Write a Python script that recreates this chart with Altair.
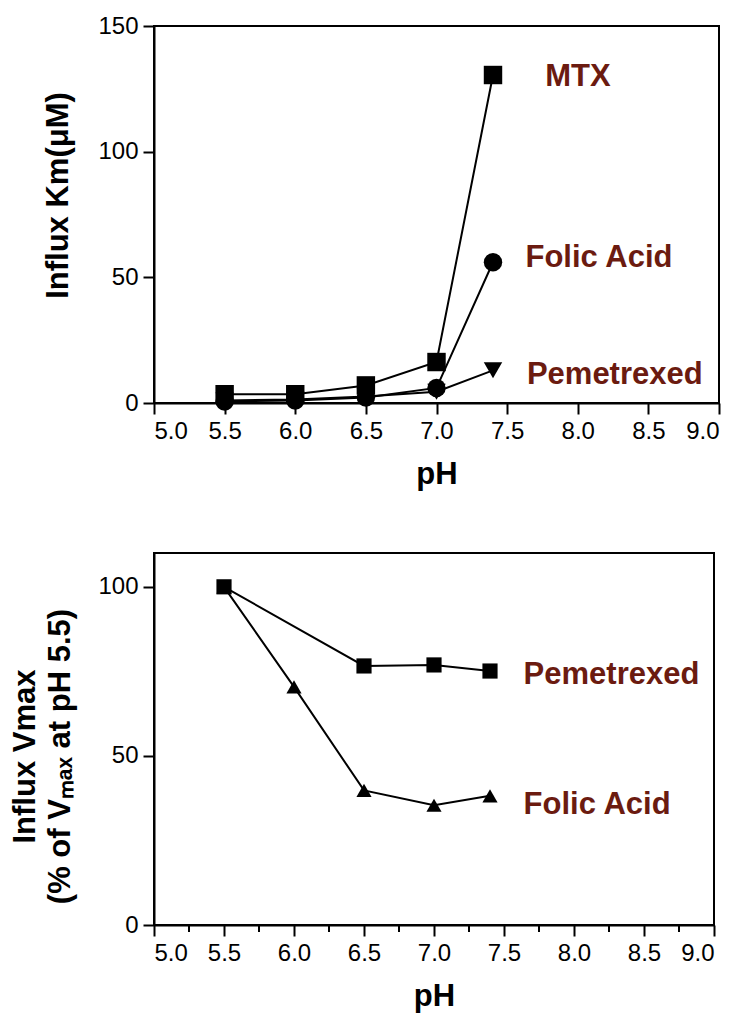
import altair as alt
import pandas as pd

# ---------------- data ----------------
ph_km = [5.5, 6.0, 6.5, 7.0, 7.4]
km_mtx = [3.5, 3.5, 7.0, 16.3, 130.5]
km_folic = [0.6, 1.0, 2.2, 6.0, 56.0]
km_pem = [1.0, 1.4, 2.6, 4.5, 13.0]

ph_vmax_pem = [5.5, 6.5, 7.0, 7.4]
vmax_pem = [100.0, 76.6, 76.9, 75.1]
ph_vmax_folic = [5.5, 6.0, 6.5, 7.0, 7.4]
vmax_folic = [100.0, 70.4, 39.8, 35.4, 38.2]

km_series = ["MTX", "Folic Acid", "Pemetrexed"]
km_shapes = ["square", "circle", "triangle-down"]
km_label_x = [7.77, 7.63, 7.64]
km_label_y = [129.8, 57.5, 11.3]

vmax_series = ["Pemetrexed", "Folic Acid"]
vmax_shapes = ["square", "triangle-up"]
vmax_label_x = [7.64, 7.64]
vmax_label_y = [74.0, 35.6]

x_major = [5.0, 5.5, 6.0, 6.5, 7.0, 7.5, 8.0, 8.5, 9.0]
x_minor = [5.25, 5.75, 6.25, 6.75, 7.25, 7.75, 8.25, 8.75]
km_ticks = [0, 50, 100, 150]
vmax_ticks = [0, 50, 100]

LABEL_COLOR = "#6b1b10"
FONT = "Liberation Sans"

# ---------------- tables ----------------
km_df = pd.DataFrame({
    "pH": ph_km * 3,
    "value": km_mtx + km_folic + km_pem,
    "series": [s for s in km_series for _ in ph_km],
})
km_lab = pd.DataFrame({"series": km_series, "x": km_label_x, "y": km_label_y})

vmax_df = pd.DataFrame({
    "pH": ph_vmax_pem + ph_vmax_folic,
    "value": vmax_pem + vmax_folic,
    "series": ["Pemetrexed"] * len(ph_vmax_pem) + ["Folic Acid"] * len(ph_vmax_folic),
})
vmax_lab = pd.DataFrame({"series": vmax_series, "x": vmax_label_x, "y": vmax_label_y})
minor_df = pd.DataFrame({"pH": x_minor, "value": [0] * len(x_minor)})

# ---------------- top chart ----------------
x_top = alt.X("pH:Q", scale=alt.Scale(domain=[5, 9], nice=False),
              axis=alt.Axis(values=x_major, format=".1f", title="pH",
                            titlePadding=16))
y_top = alt.Y("value:Q", scale=alt.Scale(domain=[0, 150], nice=False),
              axis=alt.Axis(values=km_ticks, title="Influx Km(μM)",
                            titlePadding=23, titleY=169))

top_lines = alt.Chart(km_df).mark_line(color="black", strokeWidth=2).encode(
    x=x_top, y=y_top, detail="series:N")
top_points = alt.Chart(km_df).mark_point(filled=True, opacity=1, color="black", size=340).encode(
    x=x_top, y=y_top,
    shape=alt.Shape("series:N", scale=alt.Scale(domain=km_series, range=km_shapes), legend=None))
top_text = alt.Chart(km_lab).mark_text(
    align="left", baseline="middle", font=FONT, fontSize=31, fontWeight="bold",
    color=LABEL_COLOR).encode(x="x:Q", y="y:Q", text="series:N")

top = alt.layer(top_lines, top_points, top_text).properties(width=565, height=377)

# ---------------- bottom chart ----------------
x_bot = alt.X("pH:Q", scale=alt.Scale(domain=[5, 9], nice=False),
              axis=alt.Axis(values=x_major, format=".1f", title="pH", titlePadding=16))
y_bot = alt.Y("value:Q", scale=alt.Scale(domain=[0, 110], nice=False),
              axis=alt.Axis(values=vmax_ticks,
                            title=["Influx Vmax", "(% of Vₘₐₓ at pH 5.5)"],
                            titlePadding=21, titleLineHeight=35, titleY=203))

bot_minor = alt.Chart(minor_df).mark_rule(color="black", strokeWidth=2, y2Offset=7).encode(
    x=x_bot, y=y_bot, y2="value:Q")
bot_lines = alt.Chart(vmax_df).mark_line(color="black", strokeWidth=2).encode(
    x=x_bot, y=y_bot, detail="series:N")
bot_points = alt.Chart(vmax_df).mark_point(filled=True, opacity=1, color="black", size=230).encode(
    x=x_bot, y=y_bot,
    shape=alt.Shape("series:N", scale=alt.Scale(domain=vmax_series, range=vmax_shapes), legend=None))
bot_text = alt.Chart(vmax_lab).mark_text(
    align="left", baseline="middle", font=FONT, fontSize=31, fontWeight="bold",
    color=LABEL_COLOR).encode(x="x:Q", y="y:Q", text="series:N")

bottom = alt.layer(bot_minor, bot_lines, bot_points, bot_text).properties(width=560, height=372)

chart = alt.vconcat(top, bottom, spacing=62).resolve_scale(
    shape="independent"
).properties(
    background="white", padding={"left": 0, "top": 5, "right": 5, "bottom": 5}
).configure_view(
    stroke="black", strokeWidth=2
).configure_axis(
    grid=False, domainColor="black", domainWidth=2, tickColor="black", tickWidth=2,
    tickSize=11, labelColor="black", labelFont=FONT, labelFontSize=24, labelPadding=5,
    titleColor="black", titleFont=FONT, titleFontSize=31, titleFontWeight="bold",
)

chart.save("out.html", embed_options={"renderer": "svg", "actions": False})
